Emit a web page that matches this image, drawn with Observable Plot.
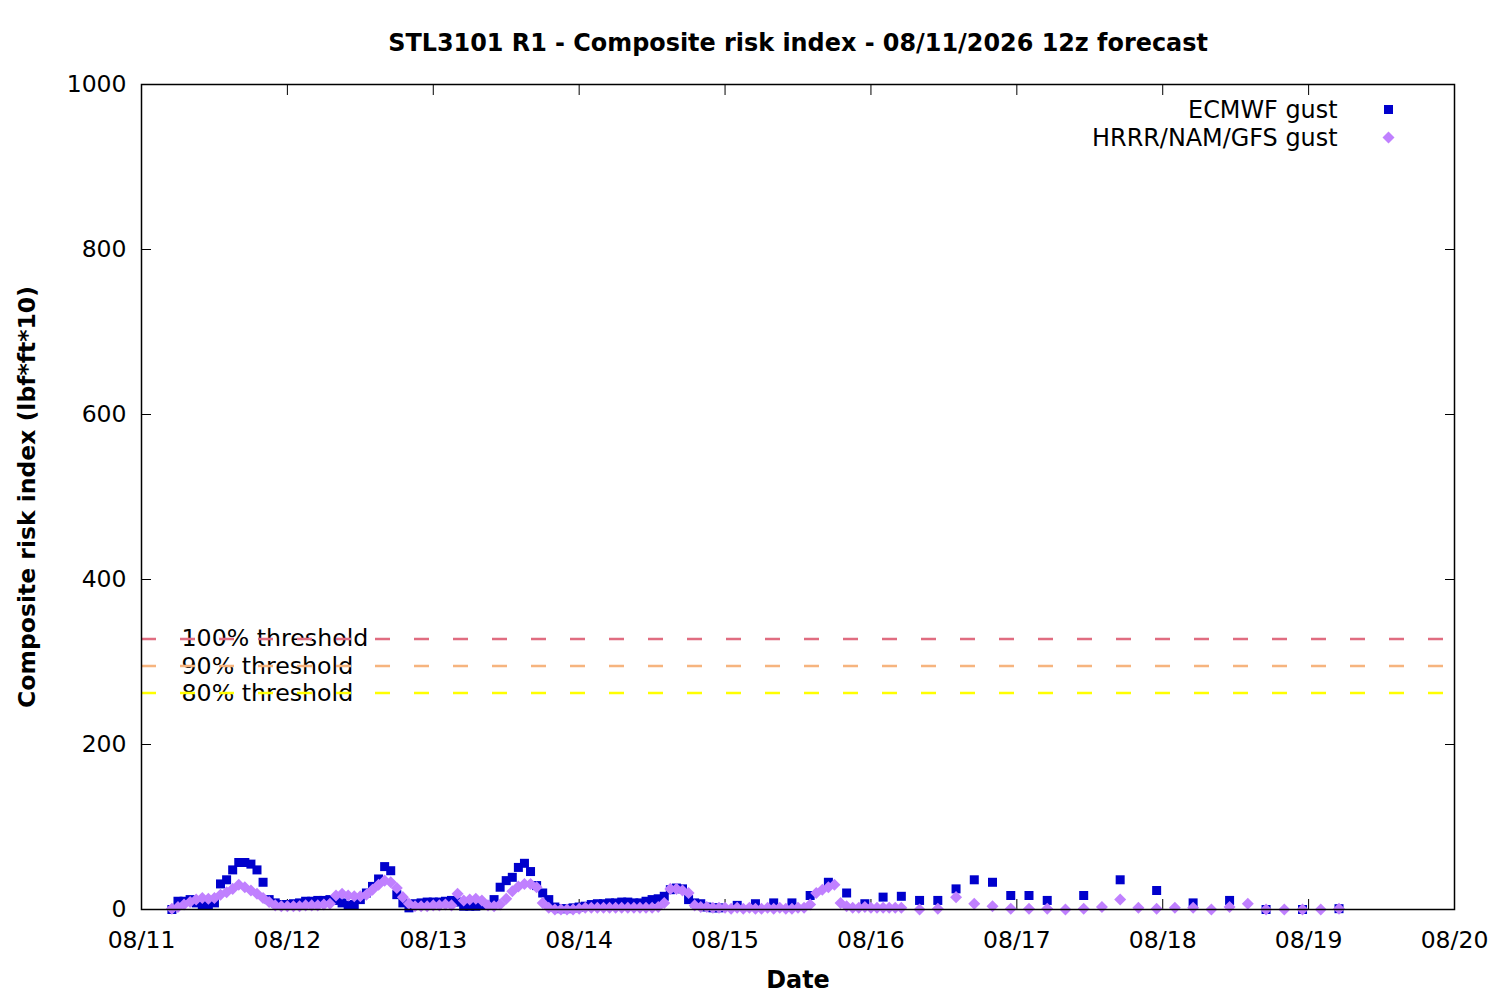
<!DOCTYPE html>
<html>
<head>
<meta charset="utf-8">
<script src="https://cdn.jsdelivr.net/npm/d3@7"></script>
<script src="https://cdn.jsdelivr.net/npm/@observablehq/plot@0.6"></script>
<style>
  html, body { margin: 0; padding: 0; background: #fff; }
  #chart { width: 1500px; height: 1000px; }
</style>
</head>
<body>
<div id="chart"></div>
<script>
// ---- Data ----
const titleText = "STL3101 R1 - Composite risk index - 08/11/2026 12z forecast";
const xLabel = "Date";
const yLabel = "Composite risk index (lbf*ft*10)";
const seriesNames = ["ECMWF gust", "HRRR/NAM/GFS gust"];
const seriesColors = ["#0000cc", "#c080ff"];

// forecast start (local valid time of the 12z run)
const runStart = Date.UTC(2026, 7, 11, 5);
const xDomain = [new Date(Date.UTC(2026, 7, 11)), new Date(Date.UTC(2026, 7, 20))];
const yTicks = [0, 200, 400, 600, 800, 1000];

// ECMWF forecast hours: hourly 0-90, 3-hourly 93-144, 6-hourly 150-192
const ecmwfHours = [...d3.range(0, 91, 1), ...d3.range(93, 145, 3), ...d3.range(150, 193, 6)];
const ecmwfValues = [
  0, 10, 10, 12, 8, 5, 5, 8, 31, 36, 48, 57, 57, 55, 48, 33, 12, 8, 6, 6,
  7, 8, 10, 10, 11, 11, 12, 11, 8, 5, 6, 12, 20, 28, 37, 52, 47, 18, 8, 2,
  7, 8, 9, 9, 9, 10, 11, 9, 4, 4, 4, 5, 5, 12, 27, 35, 39, 51, 56, 46,
  29, 20, 12, 3, 1, 1, 2, 3, 4, 6, 7, 7, 8, 8, 9, 9, 8, 8, 10, 12,
  13, 16, 24, 26, 25, 12, 8, 7, 3, 2, 2,
  // 3-hourly
  5, 7, 8, 8, 17, 33, 20, 7, 15, 16, 11, 11, 25, 36, 33, 17, 17, 11,
  // 6-hourly
  17, 36, 23, 8, 11, 0, 0, 1
];

// HRRR/NAM/GFS forecast hours: hourly 0-120, 3-hourly 123-192
const blendHours = [...d3.range(0, 121, 1), ...d3.range(123, 193, 3)];
const blendValues = [
  1, 3, 6, 9, 12, 14, 13, 14, 18, 21, 25, 30, 27, 23, 19, 14, 9, 5, 4, 4,
  4, 4, 5, 5, 5, 6, 7, 17, 19, 17, 16, 16, 18, 24, 30, 35, 33, 26, 15, 7,
  4, 4, 4, 5, 5, 6, 5, 19, 11, 12, 13, 11, 5, 4, 6, 13, 22, 28, 31, 31,
  27, 8, 2, 0, 0, 0, 0, 1, 2, 2, 2, 2, 2, 2, 2, 2, 2, 2, 2, 2,
  3, 8, 25, 25, 23, 20, 5, 3, 3, 2, 2, 2, 1, 2, 1, 2, 1, 1, 2, 1,
  2, 1, 1, 2, 2, 6, 20, 24, 27, 30, 8, 4, 2, 2, 3, 2, 2, 2, 2, 2,
  2,
  // 3-hourly
  0, 1, 15, 7, 4, 1, 1, 1, 0, 1, 3, 12, 2, 1, 2, 2, 0, 3, 7, 0, 0, 0, 0, 1
];

const thresholdLabels = ["100% threshold", "90% threshold", "80% threshold"];
const thresholdValues = [328, 295.2, 262.4];
const thresholdColors = ["#e06c80", "#f6b47e", "#ffff00"];

// ---- Tables ----
const toDate = h => new Date(runStart + h * 3600e3);
const ecmwf = ecmwfHours.map((h, i) => ({date: toDate(h), value: ecmwfValues[i]}));
const blend = blendHours.map((h, i) => ({date: toDate(h), value: blendValues[i]}));
const thresholds = thresholdLabels.map((label, i) => ({label, value: thresholdValues[i], color: thresholdColors[i]}));

const diamond = {
  draw(context, size) {
    const d = Math.sqrt(size / 2);
    context.moveTo(0, -d);
    context.lineTo(d, 0);
    context.lineTo(0, d);
    context.lineTo(-d, 0);
    context.closePath();
  }
};

const fmt = d3.utcFormat("%m/%d");
const FONT = "23.5px";
const BIG = "23.9px";

const chart = Plot.plot({
  width: 1500,
  height: 1000,
  marginLeft: 141,
  marginRight: 46,
  marginTop: 84,
  marginBottom: 91,
  style: {fontFamily: "'DejaVu Sans', sans-serif", fontSize: FONT, background: "#fff", color: "#000", overflow: "visible"},
  x: {type: "utc", domain: xDomain},
  y: {domain: [0, 1000]},
  marks: [
    Plot.axisX({anchor: "bottom", ticks: d3.utcDay, tickFormat: fmt, tickSize: -10, tickPadding: 32, label: null, fontSize: FONT}),
    Plot.axisX({anchor: "top", ticks: d3.utcDay, tickFormat: () => "", tickSize: -10, label: null}),
    Plot.axisY({anchor: "left", ticks: yTicks, tickFormat: d3.format("d"), tickSize: -10, tickPadding: 25, label: null, fontSize: FONT}),
    Plot.axisY({anchor: "right", ticks: yTicks, tickFormat: () => "", tickSize: -10, label: null}),
    Plot.text(thresholds, {y: "value", text: "label", frameAnchor: "left", dx: 40, textAnchor: "start", lineAnchor: "middle", fill: "#000", fontSize: "23.7px"}),
    Plot.ruleY(thresholds, {y: "value", stroke: "color", strokeWidth: 2.5, strokeDasharray: "15,24"}),
    Plot.dot(ecmwf, {x: "date", y: "value", symbol: "square", r: 5.08, fill: seriesColors[0], stroke: "none"}),
    Plot.dot(blend, {x: "date", y: "value", symbol: diamond, r: 4.79, fill: seriesColors[1], stroke: "none"}),
    Plot.frame({stroke: "#000", strokeWidth: 1.5}),
    // title and axis labels
    Plot.text([titleText], {frameAnchor: "top", dy: -41, lineAnchor: "middle", textAnchor: "middle", fontWeight: "bold", fontSize: BIG, fill: "#000"}),
    Plot.text([xLabel], {frameAnchor: "bottom", dy: 71, lineAnchor: "middle", textAnchor: "middle", fontWeight: "bold", fontSize: BIG, fill: "#000"}),
    Plot.text([yLabel], {frameAnchor: "left", rotate: -90, dx: -114, lineAnchor: "middle", textAnchor: "middle", fontWeight: "bold", fontSize: FONT, fill: "#000"}),
    // legend
    Plot.text([seriesNames[0]], {frameAnchor: "top-right", dx: -117, dy: 26, textAnchor: "end", lineAnchor: "middle", fontSize: BIG, fill: "#000"}),
    Plot.text([seriesNames[1]], {frameAnchor: "top-right", dx: -117, dy: 54, textAnchor: "end", lineAnchor: "middle", fontSize: BIG, fill: "#000"}),
    Plot.dot([seriesNames[0]], {frameAnchor: "top-right", dx: -66, dy: 25, symbol: "square", r: 5.08, fill: seriesColors[0], stroke: "none"}),
    Plot.dot([seriesNames[1]], {frameAnchor: "top-right", dx: -66, dy: 53, symbol: diamond, r: 4.79, fill: seriesColors[1], stroke: "none"})
  ]
});

document.getElementById("chart").appendChild(chart);
</script>
</body>
</html>
